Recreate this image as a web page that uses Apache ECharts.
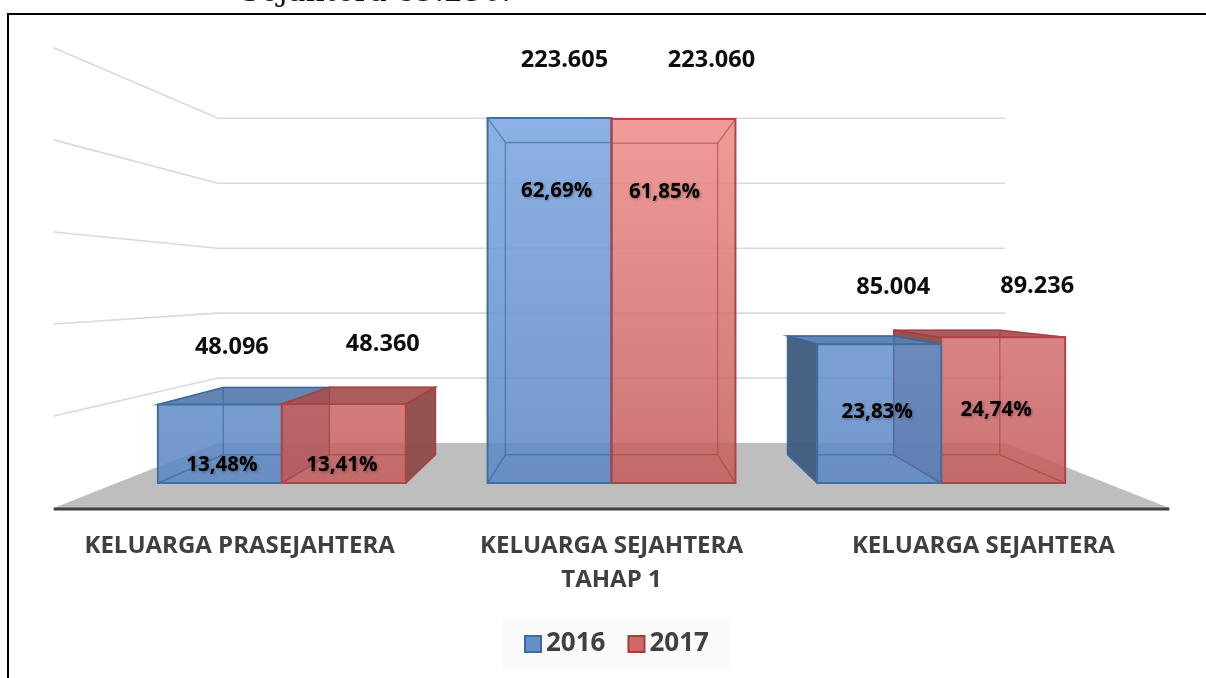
<!DOCTYPE html>
<html><head><meta charset="utf-8">
<script src="https://cdn.jsdelivr.net/npm/echarts@6/dist/echarts.min.js"></script>
<style>html,body{margin:0;padding:0;background:#fff}#c{width:1206px;height:678px}</style>
</head><body><div id="c"></div>
<script>
// ---------- data ----------
const categories = ['KELUARGA PRASEJAHTERA', 'KELUARGA SEJAHTERA\nTAHAP 1', 'KELUARGA SEJAHTERA'];
const years = ['2016', '2017'];
const values2016 = [48096, 223605, 85004];
const values2017 = [48360, 223060, 89236];
const pct2016 = ['13,48%', '62,69%', '23,83%'];
const pct2017 = ['13,41%', '61,85%', '24,74%'];
const valueTicks = [0, 50000, 100000, 150000, 200000, 250000];
const captionText = 'Sejahtera 89.236.';

// ---------- style / layout ----------
const FONT = '"Open Sans"';
const VP_VALUE = 120000;      // eye height (vanishing point) on the value scale
const K_FRONT = -0.128;       // floor front edge depth
const K_WALL = 0.204;         // back wall depth
const K_BACK = 0.144;         // bar back face depth
const BAR_FRAC = 0.376;       // bar width as fraction of band
const valueNudge = [[[12, -57], [15, -58], [14, -57]], [[39, -60], [38, -59], [34, -51]]];
const pctNudge = [[[2, 0], [7, 5], [-2, 0]], [[-2, 0], [-9, 5], [-7, 5]]];
const palettes = [
  {front0: '#5a86c3', front1: '#7aa6e0', top: '#5a7eb0', side: '#3e5a7c', edge: '#41709f', hidden: 'rgba(55,95,155,0.55)', legend: '#6690c8', legendBorder: '#3d6a9e'},
  {front0: '#c35d5d', front1: '#ef8b8b', top: '#a45454', side: '#8e4a4a', edge: '#b04444', hidden: 'rgba(160,60,60,0.5)', legend: '#d06868', legendBorder: '#a83c3c'}
];

function fmt(v) { return String(v).replace(/\B(?=(\d{3})+(?!\d))/g, '.'); }

function ctx(params, api) {
  const cs = params.coordSys;
  const VP = [cs.x + cs.width / 2, api.coord([0, VP_VALUE])[1]];
  const P = (x, y, k) => [x + (VP[0] - x) * k, y + (VP[1] - y) * k];
  return {cs, VP, P};
}

function renderScene(params, api) {
  const {cs, P} = ctx(params, api);
  const v = api.value(1);
  const y = api.coord([0, v])[1];
  const xl = cs.x, xr = cs.x + cs.width;
  if (v === 0) {
    const a = P(xl, y, K_FRONT), b = P(xl, y, K_WALL), c = P(xr, y, K_WALL), d = P(xr, y, K_FRONT);
    return {type: 'group', children: [
      {type: 'polygon', shape: {points: [a, b, c, d]}, style: {fill: '#bebebe'}},
      {type: 'line', shape: {x1: a[0], y1: a[1] + 1, x2: d[0], y2: d[1] + 1}, style: {stroke: '#3f3f3f', lineWidth: 3}}
    ]};
  }
  return {type: 'polyline', shape: {points: [P(xl, y, K_FRONT), P(xl, y, K_WALL), P(xr, y, K_WALL)]},
    style: {fill: 'none', stroke: '#d9d9d9', lineWidth: 1.6}};
}

function renderCat(params, api) {
  const {P} = ctx(params, api);
  const i = api.value(0);
  const b = api.coord([i, 0]);
  const p = P(b[0], b[1], K_FRONT);
  return {type: 'text', x: p[0], y: p[1] + 21, style: {
    text: categories[i], fill: '#404040', fontFamily: FONT, fontWeight: 'bold', fontSize: 24,
    align: 'center', verticalAlign: 'top', lineHeight: 34
  }};
}

function renderBar(side) {
  const pal = palettes[side];
  const pcts = side === 0 ? pct2016 : pct2017;
  return function (params, api) {
    const {VP, P} = ctx(params, api);
    const i = api.value(0), v = api.value(1);
    const band = api.size([1, 0])[0];
    const w = band * BAR_FRAC;
    const t = api.coord([i, v]), bs = api.coord([i, 0]);
    const cx = t[0];
    const x0 = side === 0 ? cx - w : cx, x1 = side === 0 ? cx : cx + w;
    const yT = t[1], yB = bs[1];
    const ftl = [x0, yT], ftr = [x1, yT], fbr = [x1, yB], fbl = [x0, yB];
    const btl = P(x0, yT, K_BACK), btr = P(x1, yT, K_BACK), bbr = P(x1, yB, K_BACK), bbl = P(x0, yB, K_BACK);
    const mid = (x0 + x1) / 2;
    const z = (2000 - Math.abs(mid - VP[0])) * 10;
    const yRef = api.coord([0, 225000])[1];
    const grad = new echarts.graphic.LinearGradient(0, yB, 0, yRef,
      [{offset: 0, color: pal.front0}, {offset: 1, color: pal.front1}], true);
    const ch = [];
    if (yT > VP[1]) ch.push({type: 'polygon', z2: z + 1, shape: {points: [ftl, ftr, btr, btl]},
      style: {fill: pal.top, stroke: pal.edge, lineWidth: 1.5, opacity: 0.95}});
    if (x0 > VP[0] + 0.5) ch.push({type: 'polygon', z2: z + 1, shape: {points: [ftl, btl, bbl, fbl]},
      style: {fill: pal.side, stroke: pal.edge, lineWidth: 1.5, opacity: 0.95}});
    if (x1 < VP[0] - 0.5) ch.push({type: 'polygon', z2: z + 1, shape: {points: [ftr, btr, bbr, fbr]},
      style: {fill: pal.side, stroke: pal.edge, lineWidth: 1.5, opacity: 0.95}});
    ch.push({type: 'rect', z2: z + 2, shape: {x: x0, y: yT, width: x1 - x0, height: yB - yT},
      style: {fill: grad, opacity: 0.86}});
    ch.push({type: 'polyline', z2: z + 3, shape: {points: [btl, btr, bbr, bbl, btl]},
      style: {fill: 'none', stroke: pal.hidden, lineWidth: 1.5}});
    [[ftl, btl], [ftr, btr], [fbr, bbr], [fbl, bbl]].forEach(function (s) {
      ch.push({type: 'line', z2: z + 3, shape: {x1: s[0][0], y1: s[0][1], x2: s[1][0], y2: s[1][1]},
        style: {stroke: pal.hidden, lineWidth: 1.5}});
    });
    ch.push({type: 'rect', z2: z + 4, shape: {x: x0, y: yT, width: x1 - x0, height: yB - yT},
      style: {fill: 'none', stroke: pal.edge, lineWidth: 2}});
    const vn = valueNudge[side][i];
    ch.push({type: 'text', z2: 1e7, x: mid + vn[0], y: yT + vn[1], style: {
      text: fmt(v), fill: '#0d0d0d', fontFamily: FONT, fontWeight: 'bold', fontSize: 23.5,
      align: 'center', verticalAlign: 'middle'}});
    const h = yB - yT;
    const pn = pctNudge[side][i];
    ch.push({type: 'text', z2: 1e7, x: mid + pn[0], y: yT + Math.min(68, h * 0.77) + pn[1], style: {
      text: pcts[i], fill: '#000', fontFamily: FONT, fontWeight: 'bold', fontSize: 20.5,
      align: 'center', verticalAlign: 'middle',
      textShadowColor: 'rgba(0,0,0,0.35)', textShadowBlur: 3, textShadowOffsetX: 1, textShadowOffsetY: 1}});
    return {type: 'group', children: ch};
  };
}

const chart = echarts.init(document.getElementById('c'));
chart.setOption({
  animation: false,
  backgroundColor: '#fff',
  grid: {left: 117, right: 100, top: 75, bottom: 195},
  xAxis: {type: 'category', data: categories, show: false},
  yAxis: {type: 'value', min: 0, max: 250000, interval: 50000, show: false},
  legend: {
    left: 502, top: 619, padding: [12, 22, 12, 22], backgroundColor: '#fafafa',
    itemWidth: 16, itemHeight: 16, itemGap: 22,
    textStyle: {fontFamily: FONT, fontWeight: 'bold', fontSize: 26, color: '#404040'},
    data: years.map(function (y, k) {
      return {name: y, icon: 'rect', itemStyle: {color: palettes[k].legend, borderColor: palettes[k].legendBorder, borderWidth: 2}};
    })
  },
  graphic: [
    {type: 'polyline', shape: {points: [[8, 678], [8, 14], [1206, 14]]}, style: {fill: 'none', stroke: '#000', lineWidth: 2}, z: 10},
    {type: 'text', x: 240, y: 8, style: {text: captionText, fill: '#111', fontFamily: 'DejaVu Serif', fontSize: 30, verticalAlign: 'bottom', align: 'left'}, z: 10}
  ],
  series: [
    {type: 'custom', name: 'scene', z: 1, silent: true, data: valueTicks.map(function (v) { return [0, v]; }), renderItem: renderScene},
    {type: 'custom', name: 'cats', z: 1, silent: true, data: categories.map(function (c, i) { return [i, 0]; }), renderItem: renderCat},
    {type: 'custom', name: years[0], z: 2, data: values2016.map(function (v, i) { return [i, v]; }), renderItem: renderBar(0),
      itemStyle: {color: palettes[0].legend}},
    {type: 'custom', name: years[1], z: 2, data: values2017.map(function (v, i) { return [i, v]; }), renderItem: renderBar(1),
      itemStyle: {color: palettes[1].legend}}
  ]
});
</script></body></html>
